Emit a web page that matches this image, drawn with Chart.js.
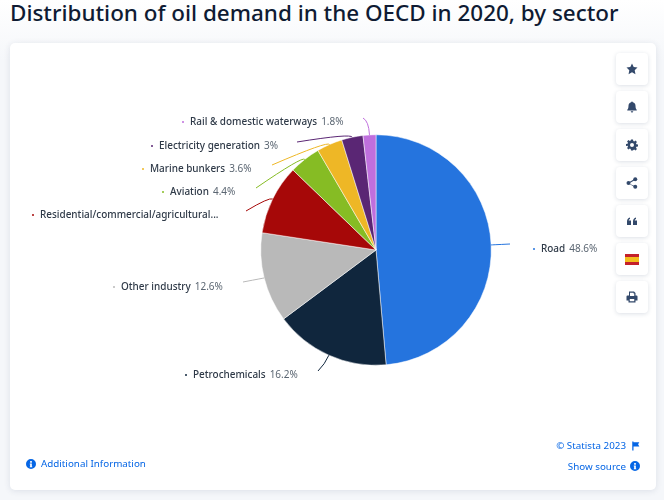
<!DOCTYPE html>
<html>
<head>
<meta charset="utf-8">
<title>Distribution of oil demand in the OECD in 2020, by sector</title>
<script src="https://cdn.jsdelivr.net/npm/chart.js@4"></script>
<style>
    html, body { margin: 0; padding: 0; }
    body {
        width: 664px; height: 500px; overflow: hidden; position: relative;
        background: linear-gradient(#fff 0, #f5f7fa 60px);
        font-family: "Noto Sans", "Open Sans", sans-serif;
    }
    h1 {
        position: absolute; left: 10px; top: -3px; margin: 0;
        font-size: 22.45px; line-height: 32px; font-weight: 500; color: #0f1b33;
        white-space: nowrap;
    }
    #card {
        position: absolute; left: 10px; top: 43px; width: 646px; height: 447px;
        background: #fff; border-radius: 5px; box-shadow: 0 1px 6px rgba(40, 60, 100, .12);
    }
    .btn {
        position: absolute; left: 616px; width: 32px; height: 32px;
        background: #fff; border-radius: 4px; box-shadow: 0 1px 4px rgba(40, 60, 100, .16);
        display: flex; align-items: center; justify-content: center;
    }
    .btn svg { width: 12px; height: 12px; fill: #33496b; }
    .flag { width: 14px; height: 11px; background: linear-gradient(#c4202a 27%, #f2bd1d 27%, #f2bd1d 73%, #c4202a 73%); }
    .foot { position: absolute; font-size: 9.8px; line-height: 14px; color: #0666e5; white-space: nowrap; }
    .ico { position: absolute; width: 10px; height: 10px; fill: #0666e5; }
</style>
</head>
<body>
<h1>Distribution of oil demand in the OECD in 2020, by sector</h1>
<div id="card"></div>
<canvas id="oilChart" width="664" height="500" style="position:absolute;left:0;top:0"></canvas>

<div class="btn" style="top:53px"><svg viewBox="0 0 24 24"><path d="M12 1l3.400 7.200 7.600 1-5.600 5.300 1.500 7.800L12 18.400 5.100 22.300l1.500-7.800L1 9.200l7.600-1z"/></svg></div>
<div class="btn" style="top:91px"><svg viewBox="0 0 24 24"><path d="M12 1c1 0 1.600.7 1.600 1.600C17 3.400 19 6 19 9.500c0 5 1.200 6.500 2.500 8V19h-19v-1.500C3.800 16 5 14.500 5 9.500 5 6 7 3.400 10.400 2.600 10.400 1.700 11 1 12 1zM9.500 20.500h5a2.500 2.500 0 0 1-5 0z"/></svg></div>
<div class="btn" style="top:129px"><svg viewBox="0 0 24 24"><path fill-rule="evenodd" d="M10 1h4l.6 3.200 1.800.8L19.100 3l2.800 2.900-1.900 2.700.8 1.800 3.200.6v4l-3.200.6-.8 1.800 1.900 2.700-2.800 2.900-2.700-1.900-1.800.8L14 23h-4l-.6-3.200-1.800-.8-2.700 1.900-2.800-2.900 1.900-2.700-.8-1.800L0 14v-4l3.200-.6.8-1.800L2.100 4.900 4.900 2l2.700 1.900 1.800-.8zM12 8a4 4 0 1 0 0 8 4 4 0 0 0 0-8z"/></svg></div>
<div class="btn" style="top:167px"><svg viewBox="0 0 24 24"><circle cx="18.500" cy="4.500" r="4"/><circle cx="18.500" cy="19.500" r="4"/><circle cx="5" cy="12" r="4"/><path d="M5 11l13-7.500 1 1.800L6 12.800l13 6-1 1.800L5 13z"/></svg></div>
<div class="btn" style="top:205px"><svg viewBox="0 0 24 24"><path d="M2 20v-7c0-4 2-7 6-8v3c-2 .6-2.500 2-2.500 3H10v9zM14 20v-7c0-4 2-7 6-8v3c-2 .6-2.500 2-2.500 3H22v9z"/></svg></div>
<div class="btn" style="top:243px"><div class="flag"></div></div>
<div class="btn" style="top:281px"><svg viewBox="0 0 24 24"><path fill-rule="evenodd" d="M6 1h10l3 3v5h2a2 2 0 0 1 2 2v8h-4v4H5v-4H1v-8a2 2 0 0 1 2-2h3zM8 3.500V10h8.500V5H15V3.500zM7.500 16v4.500h9V16z"/></svg></div>

<svg class="ico" style="left:26px;top:459px" viewBox="0 0 24 24"><path fill-rule="evenodd" d="M12 0a12 12 0 1 1 0 24 12 12 0 0 1 0-24zM10 5v4h4V5zM9 11v2h1v5H9v2h6v-2h-1v-7z"/></svg>
<div class="foot" style="left:41px;top:457px">Additional Information</div>
<div class="foot" style="right:38px;top:439px">© Statista 2023</div>
<svg class="ico" style="left:631px;top:441px" viewBox="0 0 24 24"><path d="M3 1h3v2h14l-3 5 3 5H6v10H3z"/></svg>
<div class="foot" style="right:38px;top:460px">Show source</div>
<svg class="ico" style="left:630px;top:461px" viewBox="0 0 24 24"><path fill-rule="evenodd" d="M12 0a12 12 0 1 1 0 24 12 12 0 0 1 0-24zM10 5v4h4V5zM9 11v2h1v5H9v2h6v-2h-1v-7z"/></svg>

<script>
const sectors = ["Road", "Petrochemicals", "Other industry", "Residential/commercial/agricultural...", "Aviation", "Marine bunkers", "Electricity generation", "Rail & domestic waterways"];
const shares = [48.6, 16.2, 12.6, 9.8, 4.4, 3.6, 3, 1.8];
const shareLabels = ["48.6%", "16.2%", "12.6%", "", "4.4%", "3.6%", "3%", "1.8%"];
const colores = ["#2574de", "#10263d", "#b9b9b9", "#a60808", "#86bc24", "#eeb726", "#5a2674", "#bf6fdd"];

// where each label and its leader line end up, same order as sectors
const labelX = [541, 193, 121, 40, 170, 150, 159, 190];
const labelY = [249, 375, 287, 215, 192, 169, 146, 122];
const lineEnd = [[510, 244], [318, 371], [243, 282], [246, 211], [256, 188], [272, 165], [297, 142], [363, 118]];
const lineBend = [0, 10, 0, 4, 4, 4, 4, 14];

const etiquetas = {
    id: "etiquetas",
    afterDatasetsDraw(chart) {
        const ctx = chart.ctx;
        const arcs = chart.getDatasetMeta(0).data;
        ctx.save();
        arcs.forEach((arc, i) => {
            const mid = (arc.startAngle + arc.endAngle) / 2;
            const r = arc.outerRadius;
            const px = arc.x + Math.cos(mid) * r;
            const py = arc.y + Math.sin(mid) * r;
            const cx = arc.x + Math.cos(mid) * (r + lineBend[i]);
            const cy = arc.y + Math.sin(mid) * (r + lineBend[i]);

            ctx.strokeStyle = colores[i];
            ctx.lineWidth = 1;
            ctx.beginPath();
            ctx.moveTo(px, py);
            ctx.quadraticCurveTo(cx, cy, lineEnd[i][0], lineEnd[i][1]);
            ctx.stroke();

            ctx.fillStyle = colores[i];
            ctx.beginPath();
            ctx.arc(labelX[i] - 7, labelY[i], 1, 0, Math.PI * 2);
            ctx.fill();

            ctx.textBaseline = "middle";
            ctx.textAlign = "left";
            ctx.font = '500 9.95px "Noto Sans"';
            ctx.fillStyle = "#2f3a48";
            ctx.fillText(sectors[i], labelX[i], labelY[i]);
            if (shareLabels[i]) {
                const w = ctx.measureText(sectors[i]).width;
                ctx.font = '10px "Noto Sans"';
                ctx.fillStyle = "#5b6672";
                ctx.fillText(shareLabels[i], labelX[i] + w + 4, labelY[i]);
            }
        });
        ctx.restore();
    },
};

new Chart(document.getElementById("oilChart").getContext("2d"), {
    type: "pie",
    data: {
        labels: sectors,
        datasets: [
            {
                data: shares,
                backgroundColor: colores,
                borderColor: "#ffffff",
                borderWidth: 0.5,
                hoverOffset: 0,
            },
        ],
    },
    options: {
        responsive: false,
        animation: false,
        layout: { padding: { left: 260.5, right: 172.5, top: 134.5, bottom: 134.5 } },
        plugins: { legend: { display: false }, tooltip: { enabled: false } },
    },
    plugins: [etiquetas],
});
</script>
</body>
</html>
